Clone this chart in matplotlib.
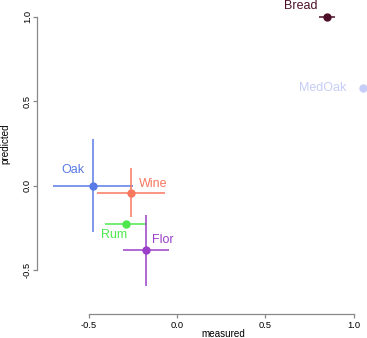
import matplotlib.pyplot as plt

# data
names = ['Bread', 'MedOak', 'Oak', 'Wine', 'Rum', 'Flor']
measured = [0.85, 1.05, -0.475, -0.26, -0.29, -0.175]
predicted = [1.0, 0.58, 0.0, -0.04, -0.225, -0.38]
x_err = [0.045, 0.0, 0.225, 0.19, 0.12, 0.13]
y_err = [0.0, 0.0, 0.275, 0.145, 0.0, 0.21]
colors = ['#4d0f28', '#c6cdf7', '#5a7ae6', '#f8775f', '#4de84d', '#9a3fc7']
# label offsets in pixels from each point
label_dx = [-26, -40, -20, 22, -12, 17]
label_dy = [11, 0, 16, 9, -11, 10]

plt.rcParams['font.family'] = ['Liberation Sans', 'DejaVu Sans']

fig = plt.figure(figsize=(3.67, 3.38), dpi=100)
ax = fig.add_axes([45 / 367, 38 / 338, 320 / 367, 300 / 338])

for i, name in enumerate(names):
    ax.errorbar(measured[i], predicted[i],
                xerr=x_err[i] if x_err[i] else None,
                yerr=y_err[i] if y_err[i] else None,
                fmt='o', color=colors[i], ecolor=colors[i], elinewidth=1.1,
                markersize=5, capsize=0, clip_on=False)
    ax.annotate(name, (measured[i], predicted[i]),
                xytext=(label_dx[i], label_dy[i]), textcoords='offset pixels',
                ha='center', va='center', color=colors[i], fontsize=9,
                annotation_clip=False)

ax.set_xlim(-0.747, 1.064)
ax.set_ylim(-0.675, 1.10)

for side in ['top', 'right']:
    ax.spines[side].set_visible(False)
ax.spines['left'].set_position(('outward', 6))
ax.spines['bottom'].set_position(('outward', 10))
ax.spines['left'].set_bounds(-0.5, 1.0)
ax.spines['bottom'].set_bounds(-0.5, 1.0)
for side in ['left', 'bottom']:
    ax.spines[side].set_color('#888888')
    ax.spines[side].set_linewidth(0.9)

ax.set_xticks([-0.5, 0.0, 0.5, 1.0])
ax.set_yticks([-0.5, 0.0, 0.5, 1.0])
ax.set_xticklabels(['-0.5', '0.0', '0.5', '1.0'])
ax.set_yticklabels(['-0.5', '0.0', '0.5', '1.0'], rotation=90, va='center')
ax.tick_params(length=3, width=0.9, color='#888888', labelsize=6.7)
ax.tick_params(axis='x', pad=2)
ax.tick_params(axis='y', pad=0.5)

ax.set_xlabel('measured', fontsize=7.1)
ax.xaxis.set_label_coords(0.556, -0.113)
ax.get_xaxis().label.set_va('center')
ax.set_ylabel('predicted', fontsize=7.1)
ax.yaxis.set_label_coords(-0.125, 0.52)
ax.get_yaxis().label.set_va('center')

plt.savefig('out.png', dpi=100)
